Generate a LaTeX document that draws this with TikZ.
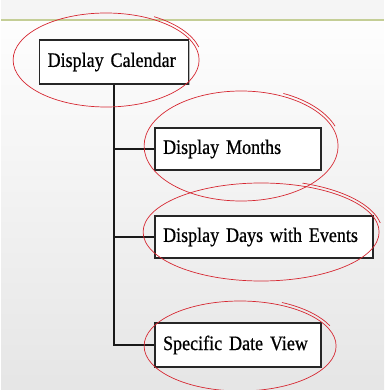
\documentclass[tikz,border=0pt]{standalone}
\usepackage{fontspec}
\setmainfont{Liberation Serif}
\newfontfamily\boxfont{Liberation Serif}[FakeStretch=0.88, FakeBold=0.7]
\newcommand\boxtextstyle{\boxfont\fontsize{20.5}{22}\selectfont\spaceskip=3pt\relax}
\usetikzlibrary{shadows}
\definecolor{barline}{RGB}{196,206,150}
\definecolor{pen}{RGB}{214,40,50}
\tikzset{
  boxnode/.style={draw=black!85, line width=1.3pt, fill=white,
    inner xsep=8pt, inner ysep=0pt, align=left,
    font=\boxtextstyle, text=black,
    drop shadow={shadow xshift=1.2pt, shadow yshift=-1.2pt, fill=black!45, opacity=0.6}},
  link/.style={line width=1.5pt, draw=black!90},
  circled/.style={draw=pen, line width=0.7pt},
}
\begin{document}
\begin{tikzpicture}[x=1pt,y=-1pt]
  % page and header rule
  \shade[top color=white, bottom color=black!10] (0,0) rectangle (383,390);
  \fill[black!4] (0,0) rectangle (383,19);
  \draw[barline, line width=2.2pt] (0,20) -- (383,20);
  \useasboundingbox (0,0) rectangle (383,390);

  % boxes
  \node[boxnode, text width=133pt, minimum height=44pt] (cal) at (113,62) {\mbox{Display Calendar}};
  \node[boxnode, text width=150pt, minimum height=42pt] (months) at (237,149) {\mbox{Display Months}};
  \node[boxnode, text width=202pt, minimum height=42pt] (days) at (263,237) {\mbox{Display Days with Events}};
  \node[boxnode, text width=150pt, minimum height=44pt] (date) at (237,345) {\mbox{Specific Date View}};

  % tree connectors
  \draw[link] (cal.south) |- (date.west);
  \draw[link] (cal.south |- months.west) -- (months.west);
  \draw[link] (cal.south |- days.west) -- (days.west);

  % pen marks around each box
  \draw[circled] (105,60) ellipse [x radius=93, y radius=47];
  \draw[circled] (105,60) ++(-60:96 and 50) arc [start angle=-60, end angle=-15, x radius=96, y radius=50];
  \draw[circled] (240,146) ellipse [x radius=97, y radius=55];
  \draw[circled] (240,146) ++(-65:100 and 58) arc [start angle=-65, end angle=-20, x radius=100, y radius=58];
  \draw[circled] (260,232) ellipse [x radius=118, y radius=49];
  \draw[circled] (260,232) ++(-70:121 and 52) arc [start angle=-70, end angle=-10, x radius=121, y radius=52];
  \draw[circled] (239,346) ellipse [x radius=96, y radius=45];
  \draw[circled] (239,346) ++(-65:99 and 48) arc [start angle=-65, end angle=-25, x radius=99, y radius=48];
\end{tikzpicture}
\end{document}
